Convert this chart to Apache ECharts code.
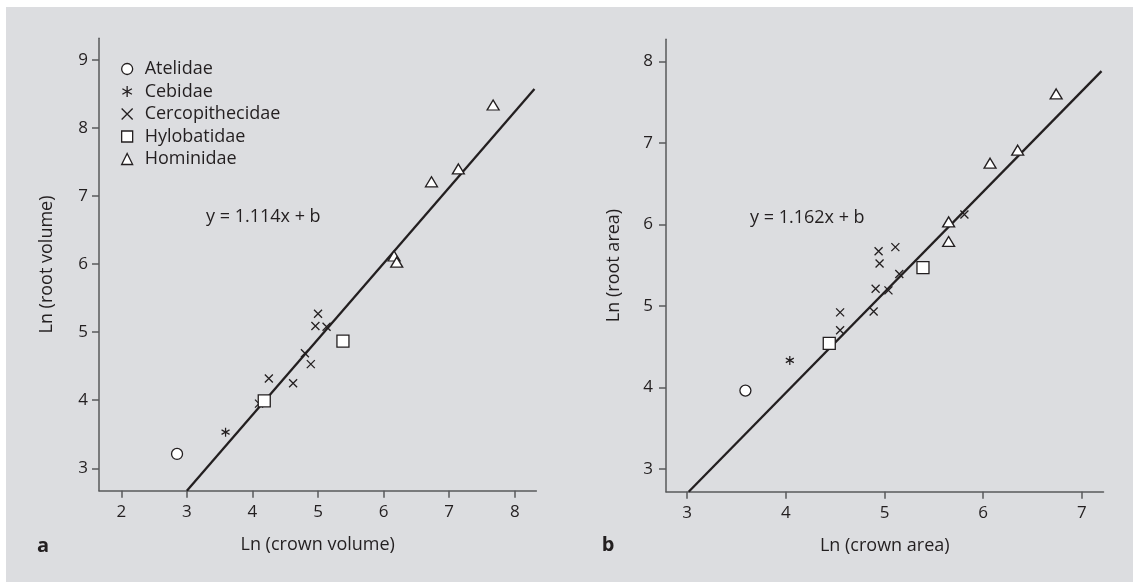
<!DOCTYPE html>
<html>
<head>
<meta charset="utf-8">
<script src="https://cdn.jsdelivr.net/npm/echarts@6/dist/echarts.min.js"></script>
<style>
  html, body { margin: 0; padding: 0; background: #ffffff; }
  #bg { position: absolute; left: 6px; top: 7px; right: 0; bottom: 0; background: #dcdde0; }
  #chart { position: absolute; left: 0; top: 0; width: 1133px; height: 582px; }
</style>
</head>
<body>
<div id="bg"></div>
<div id="chart"></div>
<script>
// ---------- data ----------
const families = ['Atelidae', 'Cebidae', 'Cercopithecidae', 'Hylobatidae', 'Hominidae'];

// panel a: Ln(crown volume) vs Ln(root volume)
const volAtelidae = [[2.85, 3.21]];
const volCebidae = [[3.59, 3.53]];
const volCercopithecidae = [[5.00, 5.27], [4.96, 5.09], [5.13, 5.08], [4.80, 4.69], [4.89, 4.53], [4.25, 4.32], [4.62, 4.25], [4.10, 3.95]];
const volHylobatidae = [[4.18, 3.99], [5.38, 4.87]];
const volHominidae = [[7.67, 8.34], [6.73, 7.21], [7.14, 7.40], [6.16, 6.12], [6.20, 6.03]];
const fitVolume = [[3.00, 2.67], [8.30, 8.574]];

// panel b: Ln(crown area) vs Ln(root area)
const areaAtelidae = [[3.59, 3.96]];
const areaCebidae = [[4.04, 4.33]];
const areaCercopithecidae = [[4.55, 4.92], [4.55, 4.70], [4.89, 4.93], [4.91, 5.21], [5.04, 5.19], [4.94, 5.67], [4.95, 5.52], [5.11, 5.72], [5.15, 5.39], [5.81, 6.12]];
const areaHylobatidae = [[4.44, 4.54], [5.39, 5.47]];
const areaHominidae = [[6.74, 7.60], [6.07, 6.75], [6.35, 6.91], [5.65, 6.03], [5.65, 5.79]];
const fitArea = [[3.015, 2.72], [7.20, 7.88]];

// tick labels
const volXTicks = [2, 3, 4, 5, 6, 7, 8];
const volYTicks = [3, 4, 5, 6, 7, 8, 9];
const areaXTicks = [3, 4, 5, 6, 7];
const areaYTicks = [3, 4, 5, 6, 7, 8];

const equationA = 'y = 1.114x + b';
const equationB = 'y = 1.162x + b';

// ---------- styling ----------
const FONT = '"Open Sans", "Noto Sans", sans-serif';
const INK = '#231f20';
const AXIS = '#58595b';
const FS = 18;

const symbols = {
  Atelidae: { symbol: 'circle', size: 11 },
  Cebidae: { symbol: 'path://M5,0L5,10M0.67,2.5L9.33,7.5M0.67,7.5L9.33,2.5', size: [8, 9] },
  Cercopithecidae: { symbol: 'path://M0,0L10,10M10,0L0,10', size: 8 },
  Hylobatidae: { symbol: 'rect', size: 12 },
  Hominidae: { symbol: 'triangle', size: [12, 10] }
};

function axisCommon(ticks, min, max, labelMargin) {
  return {
    type: 'value', min: min, max: max, scale: true,
    axisLine: { show: true, onZero: false, lineStyle: { color: AXIS, width: 1.5 } },
    axisTick: { show: true, length: 7, customValues: ticks, lineStyle: { color: AXIS, width: 1.5 } },
    axisLabel: { customValues: ticks, margin: labelMargin, color: INK, fontSize: 17, fontFamily: FONT },
    splitLine: { show: false },
    nameTextStyle: { color: INK, fontSize: FS, fontFamily: FONT },
    nameLocation: 'middle'
  };
}

const volSets = [volAtelidae, volCebidae, volCercopithecidae, volHylobatidae, volHominidae];
const areaSets = [areaAtelidae, areaCebidae, areaCercopithecidae, areaHylobatidae, areaHominidae];

const series = [];
[fitVolume, fitArea].forEach(function (fit, gi) {
  series.push({
    name: 'fit' + gi, type: 'line', xAxisIndex: gi, yAxisIndex: gi,
    data: fit, showSymbol: false, symbol: 'none', silent: true, z: 1,
    lineStyle: { color: INK, width: 2.3 }
  });
});
[volSets, areaSets].forEach(function (sets, gi) {
  sets.forEach(function (d, i) {
    const fam = families[i];
    const s = symbols[fam];
    const isLine = fam === 'Cebidae' || fam === 'Cercopithecidae';
    series.push({
      name: fam, type: 'scatter', xAxisIndex: gi, yAxisIndex: gi,
      data: d, symbol: s.symbol, symbolSize: s.size, z: 3,
      itemStyle: { color: isLine ? 'rgba(0,0,0,0)' : '#ffffff', borderColor: INK, borderWidth: 1.3, opacity: 1 },
      emphasis: { disabled: true }
    });
  });
});

const chart = echarts.init(document.getElementById('chart'), null, { renderer: 'canvas' });
chart.setOption({
  backgroundColor: 'transparent',
  animation: false,
  grid: [
    { left: 99, top: 38.3, width: 437.4, height: 452.4, outerBoundsMode: 'none' },
    { left: 666, top: 39.3, width: 437.5, height: 452.4, outerBoundsMode: 'none' }
  ],
  xAxis: [
    Object.assign(axisCommon(volXTicks, 1.66, 8.33, 13), { gridIndex: 0, name: 'Ln (crown volume)', nameGap: 45 }),
    Object.assign(axisCommon(areaXTicks, 2.785, 7.22, 13), { gridIndex: 1, name: 'Ln (crown area)', nameGap: 45 })
  ],
  yAxis: [
    Object.assign(axisCommon(volYTicks, 2.67, 9.32, 11), { gridIndex: 0, name: 'Ln (root volume)', nameGap: 43 }),
    Object.assign(axisCommon(areaYTicks, 2.72, 8.27, 13), { gridIndex: 1, name: 'Ln (root area)', nameGap: 43 })
  ],
  legend: {
    orient: 'vertical', left: 116, top: 55,
    itemWidth: 11, itemHeight: 11, itemGap: 4.5,
    data: families,
    selectedMode: false,
    itemStyle: { borderWidth: 1.3 },
    textStyle: { color: INK, fontSize: FS, fontFamily: FONT, padding: [0, 0, 0, 7], lineHeight: 18 }
  },
  graphic: [
    { type: 'text', x: 206, y: 217, style: { text: equationA, fill: INK, fontSize: FS, fontFamily: FONT, verticalAlign: 'middle' } },
    { type: 'text', x: 750, y: 218, style: { text: equationB, fill: INK, fontSize: FS, fontFamily: FONT, verticalAlign: 'middle' } },
    { type: 'text', x: 43, y: 546, style: { text: 'a', fill: INK, fontSize: 20, fontWeight: 'bold', fontFamily: FONT, align: 'center', verticalAlign: 'middle' } },
    { type: 'text', x: 608, y: 545, style: { text: 'b', fill: INK, fontSize: 20, fontWeight: 'bold', fontFamily: FONT, align: 'center', verticalAlign: 'middle' } }
  ],
  series: series
});
</script>
</body>
</html>
